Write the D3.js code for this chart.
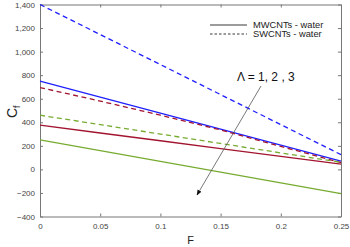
<!DOCTYPE html>
<html>
<head>
<meta charset="utf-8">
<script src="https://cdn.jsdelivr.net/npm/d3@7"></script>
<style>
  body { margin: 0; background: #fff; }
  text { font-family: "Liberation Sans", Arial, sans-serif; }
</style>
</head>
<body>
<div id="chart"></div>
<script>
// data
var F = [0, 0.05, 0.1, 0.15, 0.2, 0.25];
var mwcnt1 = [750, 614, 478, 342, 206, 70];     // blue solid
var swcnt1 = [1400, 1145, 890, 635, 380, 125];  // blue dashed
var mwcnt2 = [375, 309, 243, 177, 111, 45];     // red solid
var swcnt2 = [695, 580, 460, 335, 195, 58];     // red dashed
var mwcnt3 = [250, 159, 68, -23, -114, -205];   // green solid
var swcnt3 = [460, 380, 300, 220, 140, 60];     // green dashed
var xTicks = [0, 0.05, 0.1, 0.15, 0.2, 0.25];
var yTicks = [-400, -200, 0, 200, 400, 600, 800, 1000, 1200, 1400];
var legendLabels = ["MWCNTs - water", "SWCNTs - water"];

var width = 350, height = 247;
var pLeft = 40, pRight = 341, pTop = 4.5, pBottom = 216.5;

var svg = d3.select("#chart").append("svg")
    .attr("width", width)
    .attr("height", height);

var x = d3.scaleLinear().domain([0, 0.25]).range([pLeft, pRight]);
var y = d3.scaleLinear().domain([-400, 1400]).range([pBottom, pTop]);

var axisColor = "#777";

// axes, MATLAB style: ticks inside, box around
svg.append("g")
    .attr("transform", "translate(0," + pBottom + ")")
    .call(d3.axisBottom(x).tickValues(xTicks).tickSizeInner(-3).tickSizeOuter(0).tickPadding(7)
      .tickFormat(function(d) { return String(+d.toFixed(2)); }));
svg.append("g")
    .attr("transform", "translate(0," + pTop + ")")
    .call(d3.axisTop(x).tickValues(xTicks).tickSizeInner(-3).tickSizeOuter(0).tickFormat(""));
svg.append("g")
    .attr("transform", "translate(" + pLeft + ",0)")
    .call(d3.axisLeft(y).tickValues(yTicks).tickSizeInner(-3).tickSizeOuter(0).tickPadding(5));
svg.append("g")
    .attr("transform", "translate(" + pRight + ",0)")
    .call(d3.axisRight(y).tickValues(yTicks).tickSizeInner(-3).tickSizeOuter(0).tickFormat(""));

svg.selectAll(".domain, .tick line").attr("stroke", axisColor);
svg.selectAll(".tick text").attr("fill", "#444").style("font-size", "8px");

// lines
var line = d3.line()
    .x(function(d, i) { return x(F[i]) })
    .y(function(d) { return y(d) });

var series = [
  {v: swcnt1, c: "#1f1fff", dash: "5,3.5"},
  {v: mwcnt1, c: "#1f1fff", dash: null},
  {v: swcnt2, c: "#a2142f", dash: "5,3.5"},
  {v: mwcnt2, c: "#a2142f", dash: null},
  {v: swcnt3, c: "#77ac30", dash: "5,3.5"},
  {v: mwcnt3, c: "#77ac30", dash: null}
];
series.forEach(function(s) {
  svg.append("path")
    .datum(s.v)
    .attr("fill", "none")
    .attr("stroke", s.c)
    .attr("stroke-width", 1.3)
    .attr("stroke-dasharray", s.dash)
    .attr("d", line);
});

// legend
var lg = svg.append("g");
[0, 1].forEach(function(i) {
  var ly = 25 + i * 9;
  lg.append("line")
    .attr("x1", 210).attr("x2", 247).attr("y1", ly).attr("y2", ly)
    .attr("stroke", "#222").attr("stroke-width", 0.9)
    .attr("stroke-dasharray", i === 1 ? "2.5,2" : null);
  lg.append("text")
    .attr("x", 253).attr("y", ly + 3.3)
    .style("font-size", "9.3px").attr("fill", "#222")
    .text(legendLabels[i]);
});

// annotation
svg.append("defs").append("marker")
    .attr("id", "ah").attr("viewBox", "0 0 10 10")
    .attr("refX", 9).attr("refY", 5)
    .attr("markerWidth", 7).attr("markerHeight", 7)
    .attr("orient", "auto")
  .append("path").attr("d", "M0,1 L10,5 L0,9 z").attr("fill", "#111");
svg.append("line")
    .attr("x1", 261).attr("y1", 86).attr("x2", 197).attr("y2", 195)
    .attr("stroke", "#555").attr("stroke-width", 0.8)
    .attr("marker-end", "url(#ah)");
svg.append("text")
    .attr("x", 237).attr("y", 81)
    .style("font-size", "12px").attr("fill", "#111")
    .text("\u039B = 1, 2 , 3");

// axis titles
svg.append("text")
    .attr("x", (pLeft + pRight) / 2).attr("y", 244)
    .attr("text-anchor", "middle")
    .style("font-size", "11px").attr("fill", "#222")
    .text("F");
var yl = svg.append("text")
    .attr("transform", "translate(17,118) rotate(-90)")
    .style("font-size", "14px").attr("fill", "#222");
yl.append("tspan").text("C");
yl.append("tspan").attr("dy", 3).style("font-size", "9px").text("f");
</script>
</body>
</html>
